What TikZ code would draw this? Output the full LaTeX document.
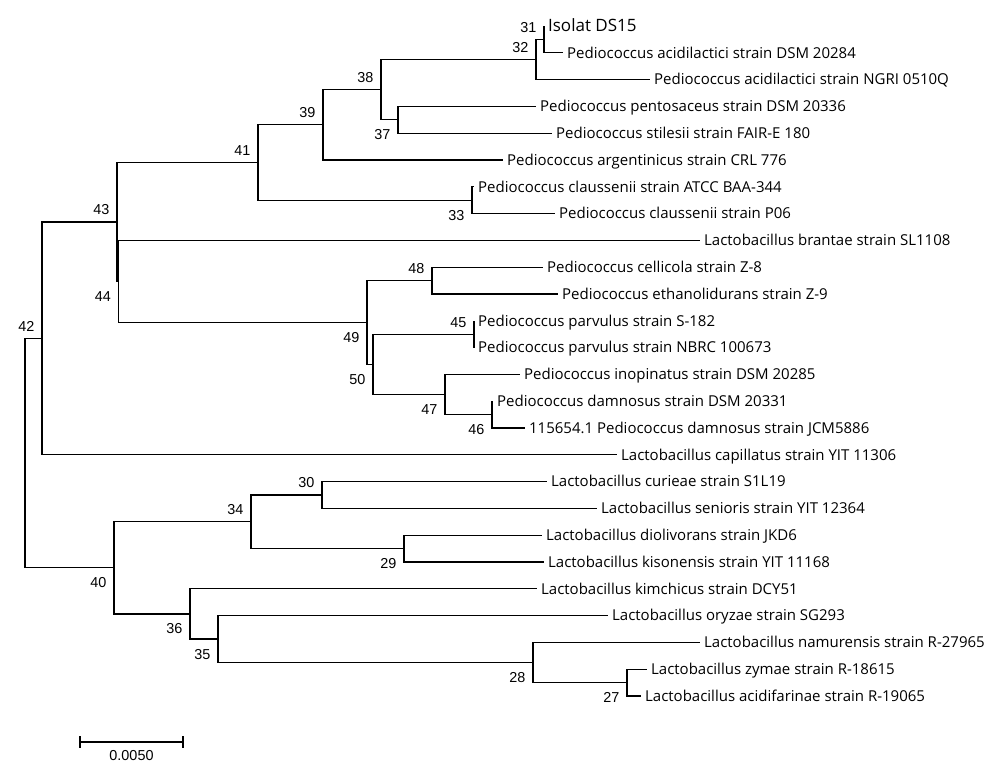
\documentclass[tikz,border=0pt]{standalone}
\usepackage{fontspec}
\setmainfont{Open Sans}
\newfontfamily\bootfont{Liberation Sans}
\usetikzlibrary{positioning}

\begin{document}
\begin{tikzpicture}[x=1pt,y=-1pt,line width=1.25pt,
                    leaf/.style={anchor=west,inner xsep=3.5pt,inner ysep=0pt,text height=10.7pt,text depth=0pt,
                                 font=\fontsize{15}{18}\selectfont},
                    boot/.style={inner sep=0pt,text height=10.4pt,text depth=0pt,font=\bootfont\fontsize{14.4}{17}\selectfont},
                    branch/.style={to path={|- (\tikztotarget)}}]

  \useasboundingbox (0,0) rectangle (1000,773);

  % inner nodes of the tree
  \coordinate (root) at (25,453.1);
  \coordinate (n42) at (42,338.4);
  \coordinate (n43) at (117,222);
  \coordinate (n41) at (258,162.5);
  \coordinate (n39) at (323,124.8);
  \coordinate (n38) at (381,89.65);
  \coordinate (n32) at (536,59.5);
  \coordinate (n31) at (544,39.4);
  \coordinate (n37) at (398,119.8);
  \coordinate (n33) at (472,200.2);
  \coordinate (n44) at (118.5,281.45);
  \coordinate (n49) at (367,322.5);
  \coordinate (n48) at (432,280.6);
  \coordinate (n50) at (373,364.35);
  \coordinate (n45) at (474,334.2);
  \coordinate (n47) at (445,394.5);
  \coordinate (n46) at (492,414.6);
  \coordinate (n40) at (114,567.85);
  \coordinate (n34) at (251,521.8);
  \coordinate (n30) at (322,495);
  \coordinate (n29) at (404,548.6);
  \coordinate (n36) at (190,613.9);
  \coordinate (n35) at (218,639);
  \coordinate (n28) at (533,662.5);
  \coordinate (n27) at (627,682.6);

  % leaves
  \node[leaf,font=\fontsize{17}{20}\selectfont,text height=12pt] (ds15) at (544,26) {Isolat DS15};
  \node[leaf] (acid1) at (563,52.8) {Pediococcus acidilactici strain DSM 20284};
  \node[leaf] (acid2) at (650,79.6) {Pediococcus acidilactici strain NGRI 0510Q};
  \node[leaf] (pent) at (536,106.4) {Pediococcus pentosaceus strain DSM 20336};
  \node[leaf] (stil) at (552,133.2) {Pediococcus stilesii strain FAIR-E 180};
  \node[leaf] (arg) at (503,160) {Pediococcus argentinicus strain CRL 776};
  \node[leaf] (clau1) at (474,186.8) {Pediococcus claussenii strain ATCC BAA-344};
  \node[leaf] (clau2) at (555,213.6) {Pediococcus claussenii strain P06};
  \node[leaf] (bran) at (700,240.4) {Lactobacillus brantae strain SL1108};
  \node[leaf] (cell) at (543,267.2) {Pediococcus cellicola strain Z-8};
  \node[leaf] (etha) at (558,294) {Pediococcus ethanolidurans strain Z-9};
  \node[leaf] (parv1) at (474,320.8) {Pediococcus parvulus strain S-182};
  \node[leaf] (parv2) at (474,347.6) {Pediococcus parvulus strain NBRC 100673};
  \node[leaf] (inop) at (520,374.4) {Pediococcus inopinatus strain DSM 20285};
  \node[leaf] (damn1) at (493,401.2) {Pediococcus damnosus strain DSM 20331};
  \node[leaf] (damn2) at (525,428) {115654.1 Pediococcus damnosus strain JCM5886};
  \node[leaf] (capi) at (617,454.8) {Lactobacillus capillatus strain YIT 11306};
  \node[leaf] (curi) at (547,481.6) {Lactobacillus curieae strain S1L19};
  \node[leaf] (seni) at (597,508.4) {Lactobacillus senioris strain YIT 12364};
  \node[leaf] (diol) at (542,535.2) {Lactobacillus diolivorans strain JKD6};
  \node[leaf] (kiso) at (544,562) {Lactobacillus kisonensis strain YIT 11168};
  \node[leaf] (kimc) at (537,588.8) {Lactobacillus kimchicus strain DCY51};
  \node[leaf] (oryz) at (608,615.6) {Lactobacillus oryzae strain SG293};
  \node[leaf] (namu) at (700,642.4) {Lactobacillus namurensis strain R-27965};
  \node[leaf] (zyma) at (647,669.2) {Lactobacillus zymae strain R-18615};
  \node[leaf] (acfa) at (641,696) {Lactobacillus acidifarinae strain R-19065};

  % branches
  \path (root) edge[branch] (n42)
        (root) edge[branch] (n40)
        (n42) edge[branch] (n43)
        (n42) edge[branch] (capi.west)
        (n43) edge[branch] (n41)
        (n43) edge[branch] (n44)
        (n41) edge[branch] (n39)
        (n41) edge[branch] (n33)
        (n39) edge[branch] (n38)
        (n39) edge[branch] (arg.west)
        (n38) edge[branch] (n32)
        (n38) edge[branch] (n37)
        (n32) edge[branch] (n31)
        (n32) edge[branch] (acid2.west)
        (n31) edge[branch] (ds15.west)
        (n31) edge[branch] (acid1.west)
        (n37) edge[branch] (pent.west)
        (n37) edge[branch] (stil.west)
        (n33) edge[branch] (clau1.west)
        (n33) edge[branch] (clau2.west)
        (n44) edge[branch] (bran.west)
        (n44) edge[branch] (n49)
        (n49) edge[branch] (n48)
        (n49) edge[branch] (n50)
        (n48) edge[branch] (cell.west)
        (n48) edge[branch] (etha.west)
        (n50) edge[branch] (n45)
        (n50) edge[branch] (n47)
        (n45) edge[branch] (parv1.west)
        (n45) edge[branch] (parv2.west)
        (n47) edge[branch] (inop.west)
        (n47) edge[branch] (n46)
        (n46) edge[branch] (damn1.west)
        (n46) edge[branch] (damn2.west)
        (n40) edge[branch] (n34)
        (n40) edge[branch] (n36)
        (n34) edge[branch] (n30)
        (n34) edge[branch] (n29)
        (n30) edge[branch] (curi.west)
        (n30) edge[branch] (seni.west)
        (n29) edge[branch] (diol.west)
        (n29) edge[branch] (kiso.west)
        (n36) edge[branch] (kimc.west)
        (n36) edge[branch] (n35)
        (n35) edge[branch] (oryz.west)
        (n35) edge[branch] (n28)
        (n28) edge[branch] (namu.west)
        (n28) edge[branch] (n27)
        (n27) edge[branch] (zyma.west)
        (n27) edge[branch] (acfa.west);

  % node numbers
  \node[boot] (b42) [above left=6.5pt and 7pt of n42] {42};
  \node[boot] (b43) [above left=6.5pt and 7pt of n43] {43};
  \node[boot] (b41) [above left=6.5pt and 7pt of n41] {41};
  \node[boot] (b39) [above left=6.5pt and 7pt of n39] {39};
  \node[boot] (b38) [above left=6.5pt and 7pt of n38] {38};
  \node[boot] (b32) [above left=6.5pt and 7pt of n32] {32};
  \node[boot] (b31) [above left=6.5pt and 7pt of n31] {31};
  \node[boot] (b37) [below left=9pt and 7pt of n37] {37};
  \node[boot] (b33) [below left=9pt and 7pt of n33] {33};
  \node[boot] (b44) [below left=9pt and 7pt of n44] {44};
  \node[boot] (b48) [above left=6.5pt and 7pt of n48] {48};
  \node[boot] (b49) [below left=9pt and 7pt of n49] {49};
  \node[boot] (b45) [above left=6.5pt and 7pt of n45] {45};
  \node[boot] (b50) [below left=9pt and 7pt of n50] {50};
  \node[boot] (b47) [below left=9pt and 7pt of n47] {47};
  \node[boot] (b46) [below left=9pt and 7pt of n46] {46};
  \node[boot] (b30) [above left=6.5pt and 7pt of n30] {30};
  \node[boot] (b34) [above left=6.5pt and 7pt of n34] {34};
  \node[boot] (b29) [below left=9pt and 7pt of n29] {29};
  \node[boot] (b40) [below left=9pt and 7pt of n40] {40};
  \node[boot] (b36) [below left=9pt and 7pt of n36] {36};
  \node[boot] (b35) [below left=9pt and 7pt of n35] {35};
  \node[boot] (b28) [below left=9pt and 7pt of n28] {28};
  \node[boot] (b27) [below left=9pt and 7pt of n27] {27};

  % scale bar
  \coordinate (sb1) at (80,742);
  \coordinate (sb2) at (183,742);
  \draw (sb1) -- (sb2);
  \draw (sb1) ++(0,-6) -- ++(0,12);
  \draw (sb2) ++(0,-6) -- ++(0,12);
  \node[boot] (sbl) at (131.5,755) {0.0050};
\end{tikzpicture}
\end{document}
